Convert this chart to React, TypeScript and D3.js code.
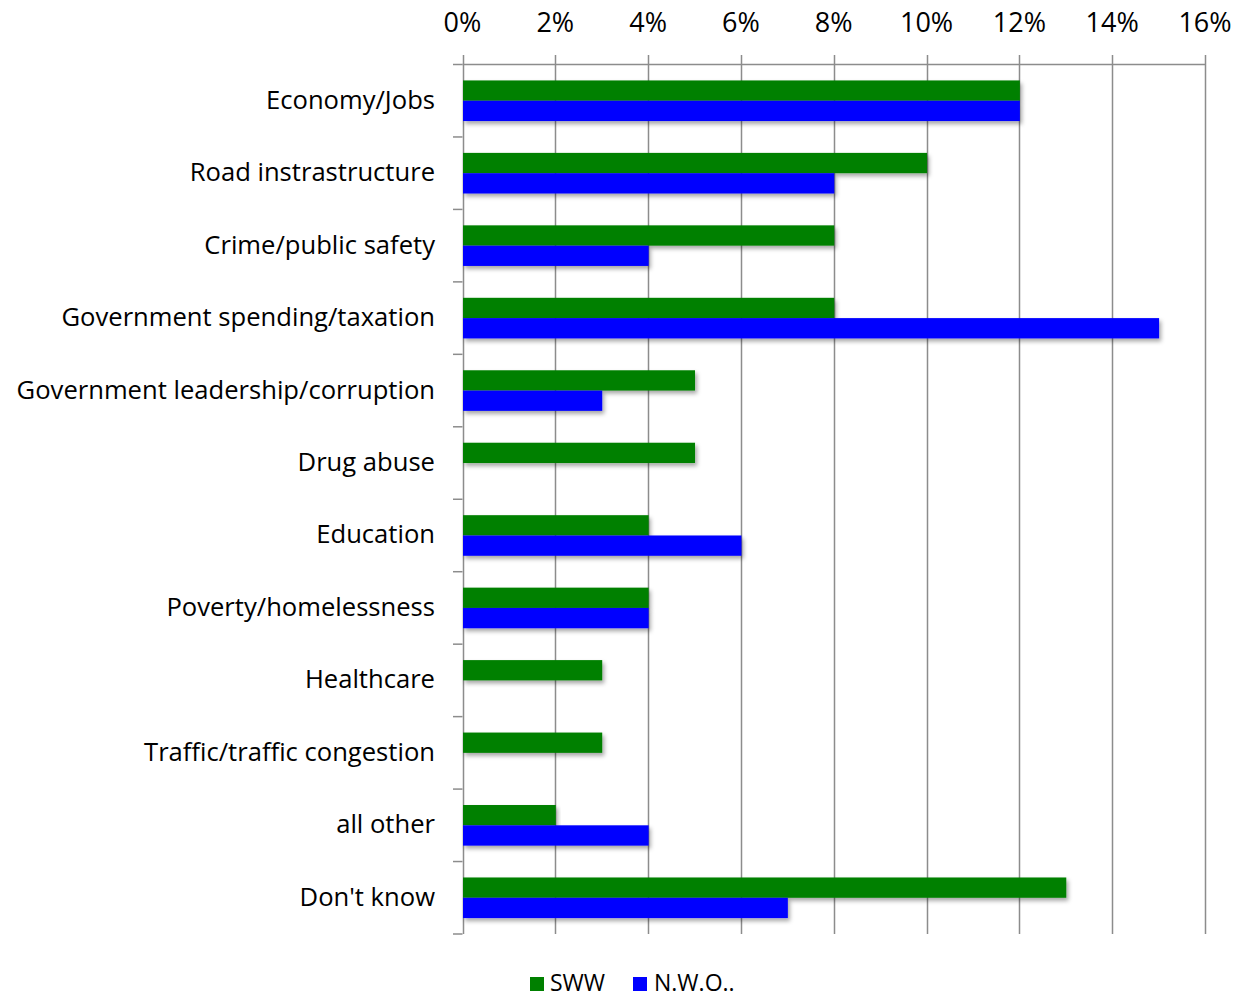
import React from "react";
import * as d3 from "d3";

const categories = [
  "Economy/Jobs",
  "Road instrastructure",
  "Crime/public safety",
  "Government spending/taxation",
  "Government leadership/corruption",
  "Drug abuse",
  "Education",
  "Poverty/homelessness",
  "Healthcare",
  "Traffic/traffic congestion",
  "all other",
  "Don't know",
];
const swwValues = [12, 10, 8, 8, 5, 5, 4, 4, 3, 3, 2, 13];
const nwoValues = [12, 8, 4, 15, 3, 0, 6, 4, 0, 0, 4, 7];
const seriesNames = ["SWW", "N.W.O.."];
const seriesColors = ["#008000", "#0000ff"];
const xTicks = [0, 2, 4, 6, 8, 10, 12, 14, 16];

const W = 1251;
const H = 997;
const left = 462.5;
const right = 1205;
const top = 64.5;
const bottom = 934;
const FONT = "'Open Sans', sans-serif";

export default function App() {
  const x = d3.scaleLinear().domain([0, 16]).range([left, right]);
  const y = d3.scaleBand<string>().domain(categories).range([top, bottom]).paddingInner(0).paddingOuter(0);
  const bw = y.bandwidth();
  const barH = 20.3;
  const series = [swwValues, nwoValues];
  const gridColor = "#8c8c8c";

  return (
    <svg width={W} height={H} style={{ position: "absolute", left: 0, top: 0, background: "#fff" }}>
      <defs>
        <filter id="shadow" x="-5%" y="-50%" width="110%" height="220%">
          <feDropShadow dx="2" dy="3" stdDeviation="2" floodColor="#000" floodOpacity="0.35" />
        </filter>
      </defs>
      {xTicks.map((t) => (
        <line key={"g" + t} x1={Math.round(x(t)) + 0.5} x2={Math.round(x(t)) + 0.5} y1={55} y2={bottom} stroke={gridColor} strokeWidth={1.5} />
      ))}
      <line x1={left} x2={right} y1={top} y2={top} stroke={gridColor} strokeWidth={1.5} />
      {d3.range(categories.length + 1).map((i) => {
        const yy = top + i * bw;
        return <line key={"ct" + i} x1={453} x2={left} y1={yy} y2={yy} stroke={gridColor} strokeWidth={1.5} />;
      })}
      {xTicks.map((t) => (
        <text key={"tl" + t} x={x(t)} y={32} textAnchor="middle" fontFamily={FONT} fontSize={27} fill="#000">
          {t + "%"}
        </text>
      ))}
      {categories.map((c, i) => {
        const y0 = (y(c) as number) + bw / 2 - barH;
        return (
          <g key={c}>
            {series.map((vals, s) =>
              vals[i] > 0 ? (
                <rect
                  key={s}
                  x={x(0) + 0.5}
                  y={y0 + s * barH}
                  width={x(vals[i]) - x(0)}
                  height={barH}
                  fill={seriesColors[s]}
                  filter="url(#shadow)"
                />
              ) : null
            )}
          </g>
        );
      })}
      {categories.map((c) => (
        <text
          key={"cl" + c}
          x={435}
          y={(y(c) as number) + bw / 2 - 1}
          dy="0.35em"
          textAnchor="end"
          fontFamily={FONT}
          fontSize={25.6}
          fill="#000"
        >
          {c}
        </text>
      ))}
      <g>
        <rect x={530} y={977} width={14} height={14} fill={seriesColors[0]} />
        <text x={550} y={990.5} fontFamily={FONT} fontSize={23} fill="#000">{seriesNames[0]}</text>
        <rect x={633} y={977} width={14} height={14} fill={seriesColors[1]} />
        <text x={654} y={990.5} fontFamily={FONT} fontSize={23} fill="#000">{seriesNames[1]}</text>
      </g>
    </svg>
  );
}
